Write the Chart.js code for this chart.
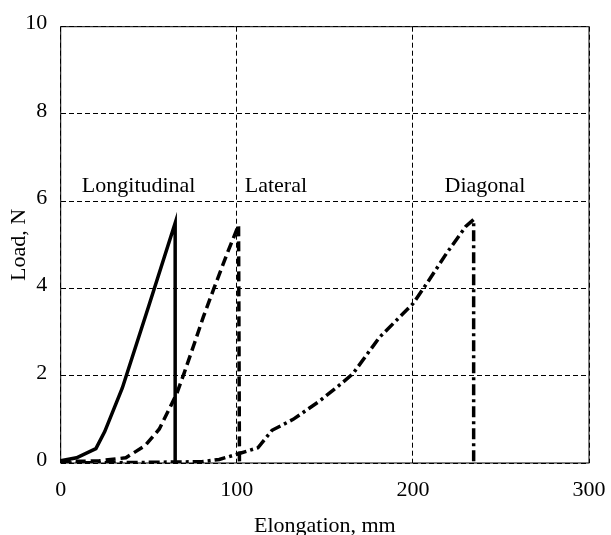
<!DOCTYPE html>
<html>
<head>
<meta charset="utf-8">
<script src="https://cdn.jsdelivr.net/npm/chart.js@4/dist/chart.umd.min.js"></script>
<style>
  body { margin: 0; background: #fff; }
  #wrap { width: 611px; height: 535px; position: relative; }
</style>
</head>
<body>
<div id="wrap"><canvas id="loadChart"></canvas></div>
<script>
// Load vs elongation for the three test directions
const longElong = [0, 9, 20, 25, 35, 50, 65, 65];
const longLoad  = [0.05, 0.12, 0.33, 0.72, 1.72, 3.6, 5.5, 0];

const latElong = [0, 22, 37, 48, 56, 63, 66, 70, 76, 81, 87, 95, 101, 101.5];
const latLoad  = [0.03, 0.05, 0.12, 0.4, 0.78, 1.35, 1.6, 2.05, 2.75, 3.35, 4.0, 4.85, 5.45, 0];

const diagElong = [0, 40, 80, 90, 100, 112, 117, 120, 132, 147, 160, 166, 181, 200, 208, 219, 230, 234.5, 234.5];
const diagLoad  = [0, 0.01, 0.03, 0.08, 0.2, 0.35, 0.6, 0.75, 1.0, 1.42, 1.84, 2.05, 2.88, 3.65, 4.12, 4.8, 5.42, 5.58, 0];

// Text labels written inside the plot
const noteText = ['Longitudinal', 'Lateral', 'Diagonal'];
const noteX = [12, 104.5, 218];
const noteY = [6.2, 6.2, 6.2];

const fontFamily = '"Liberation Serif", "Times New Roman", serif';

function toPoints(xs, ys) {
    return xs.map((x, i) => ({ x: x, y: ys[i] }));
}

// Box around the plot area
const frameBox = {
    id: 'frameBox',
    beforeDatasetsDraw(chart) {
        const a = chart.chartArea;
        const ctx = chart.ctx;
        ctx.save();
        ctx.strokeStyle = '#000';
        ctx.lineWidth = 1;
        ctx.setLineDash([]);
        ctx.strokeRect(a.left, a.top, a.right - a.left, a.bottom - a.top);
        ctx.restore();
    }
};

// Direction names
const notes = {
    id: 'notes',
    afterDatasetsDraw(chart) {
        const ctx = chart.ctx;
        const xs = chart.scales.x, ys = chart.scales.y;
        ctx.save();
        ctx.font = '22px ' + fontFamily;
        ctx.fillStyle = '#000';
        ctx.textAlign = 'left';
        ctx.textBaseline = 'alphabetic';
        noteText.forEach((t, i) => {
            ctx.fillText(t, xs.getPixelForValue(noteX[i]), ys.getPixelForValue(noteY[i]));
        });
        ctx.restore();
    }
};

const ctx = document.getElementById('loadChart').getContext('2d');
new Chart(ctx, {
    type: 'scatter',
    data: {
        datasets: [
            {
                label: 'Longitudinal',
                data: toPoints(longElong, longLoad),
                showLine: true,
                borderColor: '#000',
                borderWidth: 3.5,
                pointRadius: 0,
                tension: 0
            },
            {
                label: 'Lateral',
                data: toPoints(latElong, latLoad),
                showLine: true,
                borderColor: '#000',
                borderWidth: 3.5,
                borderDash: [10, 5],
                pointRadius: 0,
                tension: 0
            },
            {
                label: 'Diagonal',
                data: toPoints(diagElong, diagLoad),
                showLine: true,
                borderColor: '#000',
                borderWidth: 3.5,
                borderDash: [11, 4, 3, 4],
                pointRadius: 0,
                tension: 0
            }
        ]
    },
    options: {
        responsive: true,
        maintainAspectRatio: false,
        animation: false,
        layout: { padding: { left: 0, right: 22, top: 25, bottom: 0 } },
        plugins: {
            legend: { display: false },
            tooltip: { enabled: false }
        },
        scales: {
            x: {
                type: 'linear',
                min: 0,
                max: 300,
                afterFit: s => {
                    s.height = 72;
                    s.paddingLeft = 0;   // let the end labels overhang
                    s.paddingRight = 0;
                },
                ticks: {
                    stepSize: 100,
                    color: '#000',
                    padding: 14,
                    font: { family: fontFamily, size: 22 }
                },
                grid: { color: '#000', lineWidth: 1, drawTicks: false },
                border: { display: false, dash: [5, 3] },
                title: {
                    display: true,
                    text: 'Elongation, mm',
                    color: '#000',
                    padding: 0,
                    font: { family: fontFamily, size: 22, lineHeight: 0.8 }
                }
            },
            y: {
                type: 'linear',
                min: 0,
                max: 10,
                afterFit: s => { s.width = 60.7; },
                ticks: {
                    stepSize: 2,
                    color: '#000',
                    padding: 13.5,
                    labelOffset: -3,
                    font: { family: fontFamily, size: 22 }
                },
                grid: { color: '#000', lineWidth: 1, drawTicks: false },
                border: { display: false, dash: [5, 3] },
                title: {
                    display: true,
                    text: 'Load, N',
                    color: '#000',
                    padding: { top: 6, bottom: 0 },
                    font: { family: fontFamily, size: 22 }
                }
            }
        }
    },
    plugins: [frameBox, notes]
});
</script>
</body>
</html>
